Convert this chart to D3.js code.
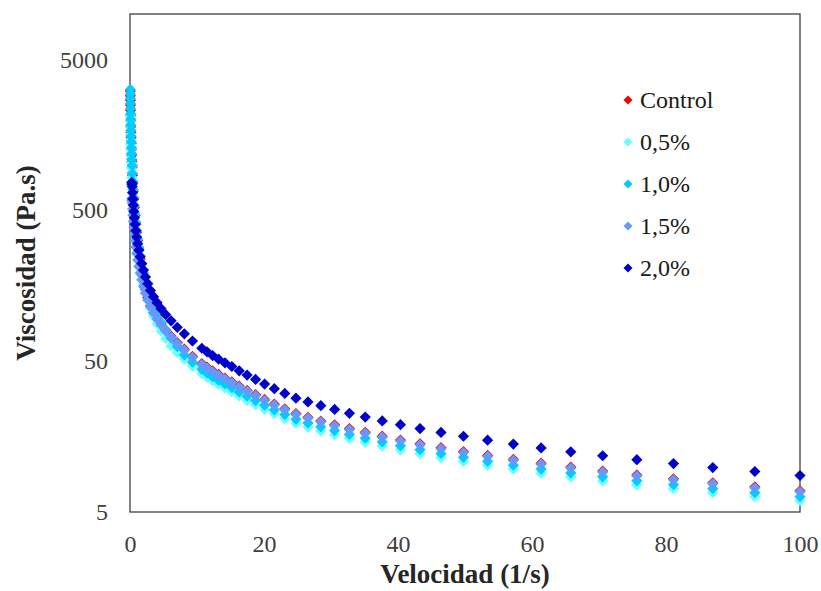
<!DOCTYPE html>
<html>
<head>
<meta charset="utf-8">
<script src="https://cdn.jsdelivr.net/npm/d3@7"></script>
<style>
  body { margin: 0; background: #fff; }
  svg { display: block; }
  text { font-family: "Liberation Serif", "Times New Roman", serif; }
</style>
</head>
<body>
<div class="graphics"></div>
<script>
// velocidad de corte (1/s)
const velocidad = [100, 93.26, 86.98, 81.12, 75.65, 70.55, 65.79, 61.36, 57.22, 53.37,
  49.77, 46.42, 43.29, 40.37, 37.65, 35.11, 32.75, 30.54, 28.48, 26.56,
  24.77, 23.10, 21.54, 20.09, 18.74, 17.48, 16.30, 15.20, 14.18, 13.22,
  12.33, 11.50, 10.72, 9.326, 8.112, 7.055, 6.136, 5.337, 4.642, 4.037,
  3.511, 3.054, 2.656, 2.310, 2.009, 1.748, 1.520, 1.322, 1.150, 1.000,
  0.8697, 0.7565, 0.6579, 0.5722, 0.4977, 0.4329, 0.3765, 0.3275, 0.2848, 0.2477,
  0.2154, 0.1874, 0.1630, 0.1417, 0.1233, 0.1072, 0.0933, 0.0811, 0.0706, 0.0614,
  0.0534, 0.0464];

const control = [6.91, 7.34, 7.81, 8.29, 8.80, 9.34, 9.92, 10.53, 11.18, 11.86,
  12.58, 13.34, 14.15, 15.00, 15.91, 16.86, 17.86, 18.93, 20.06, 21.24,
  22.49, 24.18, 25.98, 27.89, 29.96, 31.99, 34.17, 36.47, 38.58, 40.81,
  43.12, 45.61, 48.19, 53.81, 60.04, 66.34, 73.24, 80.41, 88.18, 96.65,
  105.8, 116.4, 132, 150, 175, 203, 238, 276.5, 314.2, 357.0,
  405.4, 459.8, 521.2, 590.6, 668.6, 756.3, 854.8, 965.8, 1057, 1156,
  1265, 1384, 1510, 1648, 1795, 1954, 2124, 2301, 2489, 2685,
  2877, 3083];

const p05 = [5.94, 6.31, 6.71, 7.13, 7.56, 8.03, 8.53, 9.05, 9.61, 10.19,
  10.82, 11.47, 12.17, 12.90, 13.68, 14.49, 15.36, 16.28, 17.24, 18.27,
  19.34, 20.80, 22.34, 23.99, 25.76, 27.51, 29.38, 31.37, 33.18, 35.10,
  37.08, 39.21, 41.44, 46.27, 51.63, 57.05, 62.98, 70.65, 79.19, 88.64,
  99.22, 111.5, 126.4, 143.2, 162.3, 183.6, 207.7, 234.7, 265.1, 299.2,
  337.5, 380.3, 428.5, 482.4, 542.4, 609.7, 684.8, 768.8, 826.0, 887.5,
  953.7, 1025, 1101, 1183, 1271, 1366, 1468, 1577, 1694, 1820,
  1956, 2102];

const p10 = [6.32, 6.72, 7.14, 7.58, 8.05, 8.55, 9.08, 9.63, 10.22, 10.84,
  11.51, 12.21, 12.95, 13.73, 14.55, 15.42, 16.34, 17.32, 18.35, 19.44,
  20.58, 22.13, 23.77, 25.53, 27.40, 29.28, 31.27, 33.38, 35.31, 37.34,
  39.46, 41.73, 44.10, 49.24, 54.94, 62.43, 70.89, 80.04, 90.26, 101.7,
  114.6, 129.7, 148.0, 168.7, 192.4, 219.1, 249.3, 283.6, 322.3, 366.2,
  415.8, 471.6, 534.6, 605.7, 685.7, 775.7, 876.7, 990.6, 1084, 1186,
  1297, 1419, 1549, 1690, 1841, 2004, 2178, 2360, 2553, 2754,
  2951, 3162];

const p15 = [6.81, 7.23, 7.69, 8.17, 8.67, 9.20, 9.77, 10.37, 11.01, 11.68,
  12.39, 13.14, 13.94, 14.78, 15.67, 16.61, 17.60, 18.65, 19.76, 20.93,
  22.16, 23.82, 25.60, 27.48, 29.51, 31.52, 33.66, 35.94, 38.01, 40.21,
  42.49, 44.93, 47.48, 53.02, 59.15, 65.36, 72.16, 79.22, 86.88, 95.22,
  104.3, 114.7, 127.3, 141.1, 156.5, 173.2, 191.7, 212.1, 234.4, 258.9,
  285.8, 315.2, 347.5, 382.8, 421.4, 463.5, 509.4, 559.7, 581, 597,
  null, null, null, null, null, null, null, null, null, null,
  null, null];

const p20 = [8.73, 9.275, 9.854, 10.47, 11.11, 11.80, 12.53, 13.30, 14.11, 14.97,
  15.89, 16.85, 17.87, 18.95, 20.09, 21.29, 22.56, 23.91, 25.33, 26.83,
  28.41, 30.54, 32.82, 35.24, 37.83, 40.41, 43.16, 46.07, 48.73, 51.55,
  54.47, 57.60, 60.88, 67.97, 75.84, 83.80, 92.51, 101.6, 111.4, 122.1,
  133.7, 147.1, 163.2, 180.9, 200.6, 222.1, 245.8, 271.9, 300.5, 331.9,
  366.4, 404.1, 445.5, 490.8, 540.2, 594.2, 653.1, 717.5, 745, 765,
  null, null, null, null, null, null, null, null, null, null,
  null, null];

const nombres = ["Control", "0,5%", "1,0%", "1,5%", "2,0%"];
const colores = ["#ff0000", "#66ffff", "#00ccff", "#6699ff", "#0000cc"];
const series = [control, p05, p10, p15, p20];

const xTicks = [0, 20, 40, 60, 80, 100];
const yTicks = [5, 50, 500, 5000];

const width = 821;
const height = 591;
const margin = { top: 14, right: 21, bottom: 79, left: 130 };
const fuente = "Liberation Serif, Times New Roman, serif";

const svg = d3.select(".graphics")
  .append("svg")
  .attr("width", width)
  .attr("height", height);

svg.append("rect").attr("width", width).attr("height", height).attr("fill", "#fff");

const x = d3.scaleLinear()
  .domain([0, 100])
  .range([margin.left, width - margin.right]);

const y = d3.scaleLog()
  .domain([5, 10000])
  .range([height - margin.bottom, margin.top]);

// marco del area de trazado
svg.append("rect")
  .attr("x", x(0))
  .attr("y", y(10000))
  .attr("width", x(100) - x(0))
  .attr("height", y(5) - y(10000))
  .attr("fill", "none")
  .attr("stroke", "#404040")
  .attr("stroke-width", 1.3);

const xAxis = svg.append("g")
  .attr("transform", `translate(0,${y(5)})`)
  .call(d3.axisBottom(x).tickValues(xTicks).tickSize(0).tickPadding(23).tickFormat(d3.format("d")));
xAxis.select(".domain").remove();
xAxis.selectAll("text")
  .attr("font-size", 24)
  .attr("font-family", fuente)
  .attr("fill", "#404040");

const yAxis = svg.append("g")
  .attr("transform", `translate(${x(0)},0)`)
  .call(d3.axisLeft(y).tickValues(yTicks).tickSize(0).tickPadding(22).tickFormat(d3.format("d")));
yAxis.select(".domain").remove();
yAxis.selectAll("text")
  .attr("font-size", 24)
  .attr("font-family", fuente)
  .attr("fill", "#404040");

const diamante = r => `M0,${-r}L${r},0L0,${r}L${-r},0Z`;

series.forEach((vals, i) => {
  const pts = velocidad.map((v, j) => [v, vals[j]]).filter(d => d[1] != null);
  svg.append("g")
    .selectAll("path")
    .data(pts)
    .join("path")
    .attr("d", diamante(5.6))
    .attr("transform", d => `translate(${x(d[0])},${y(d[1])})`)
    .attr("fill", colores[i]);
});

// leyenda
const leyenda = svg.append("g");
nombres.forEach((n, i) => {
  const cy = 100 + i * 42;
  leyenda.append("path")
    .attr("d", diamante(4.5))
    .attr("transform", `translate(628,${cy})`)
    .attr("fill", colores[i]);
  leyenda.append("text")
    .attr("x", 640)
    .attr("y", cy)
    .attr("dy", "0.35em")
    .attr("font-size", 24)
    .attr("font-family", fuente)
    .attr("fill", "#1a1a1a")
    .text(n);
});

// titulos de ejes
svg.append("text")
  .attr("x", (x(0) + x(100)) / 2)
  .attr("y", 583)
  .attr("text-anchor", "middle")
  .attr("font-size", 27)
  .attr("font-family", fuente)
  .attr("font-weight", "bold")
  .attr("fill", "#262626")
  .text("Velocidad (1/s)");

svg.append("text")
  .attr("transform", `translate(35,${(y(5) + y(10000)) / 2}) rotate(-90)`)
  .attr("text-anchor", "middle")
  .attr("font-size", 27)
  .attr("font-family", fuente)
  .attr("font-weight", "bold")
  .attr("fill", "#262626")
  .text("Viscosidad (Pa.s)");
</script>
</body>
</html>
